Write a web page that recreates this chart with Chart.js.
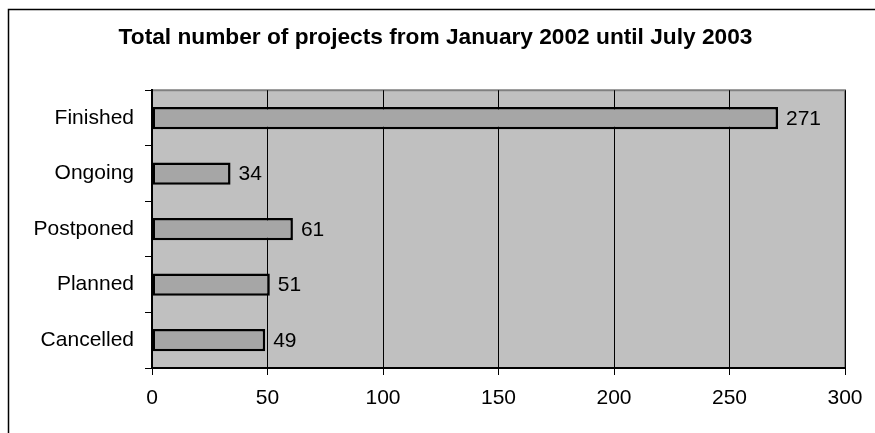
<!DOCTYPE html>
<html>
<head>
<meta charset="utf-8">
<script src="https://cdn.jsdelivr.net/npm/chart.js@4/dist/chart.umd.min.js"></script>
<style>
  html, body { margin: 0; padding: 0; background: #fff; }
  #wrap { width: 875px; height: 433px; }
</style>
</head>
<body>
<div id="wrap"><canvas id="projects" width="875" height="433"></canvas></div>
<script>
const statuses = ['Finished', 'Ongoing', 'Postponed', 'Planned', 'Cancelled'];
const projectCounts = [271, 34, 61, 51, 49];
const xTicks = [0, 50, 100, 150, 200, 250, 300];

const FONT = 'Arial, "Liberation Sans", sans-serif';

// frame around the whole chart + grey plot area
const backdrop = {
    id: 'backdrop',
    beforeDraw(chart) {
        const ctx = chart.ctx;
        const a = chart.chartArea;
        ctx.save();
        ctx.strokeStyle = '#000';
        ctx.lineWidth = 1.5;
        ctx.strokeRect(8.5, 9.5, 900, 500);
        ctx.fillStyle = '#c0c0c0';
        ctx.fillRect(a.left, a.top, a.right - a.left, a.bottom - a.top);
        ctx.strokeStyle = '#808080';
        ctx.lineWidth = 2;
        ctx.strokeRect(a.left, a.top, a.right - a.left, a.bottom - a.top);
        ctx.restore();
    }
};

// value labels at the end of each bar
const valueLabels = {
    id: 'valueLabels',
    afterDatasetsDraw(chart) {
        const ctx = chart.ctx;
        const meta = chart.getDatasetMeta(0);
        ctx.save();
        ctx.font = '21px ' + FONT;
        ctx.fillStyle = '#000';
        ctx.textAlign = 'left';
        ctx.textBaseline = 'middle';
        meta.data.forEach((bar, i) => {
            ctx.fillText(String(projectCounts[i]), bar.x + 8, bar.y + 1);
        });
        ctx.restore();
    }
};

new Chart(
    document.getElementById('projects'),
    {
        type: 'bar',
        data: {
            labels: statuses,
            datasets: [
                {
                    label: 'Projects',
                    data: projectCounts,
                    backgroundColor: '#a6a6a6',
                    borderColor: '#000',
                    borderWidth: 2.5,
                    borderSkipped: false,
                    categoryPercentage: 1,
                    barPercentage: 0.4,
                }
            ]
        },
        options: {
            indexAxis: 'y',
            responsive: false,
            animation: false,
            layout: { padding: { left: 26, right: 30, top: 0, bottom: 0 } },
            plugins: {
                legend: { display: false },
                tooltip: { enabled: false },
                title: {
                    display: true,
                    text: 'Total number of projects from January 2002 until July 2003',
                    color: '#000',
                    font: { family: FONT, size: 22.7, weight: 'bold' },
                    padding: { top: 24, bottom: 39 },
                },
            },
            scales: {
                x: {
                    min: 0,
                    max: 300,
                    afterBuildTicks: scale => {
                        scale.ticks = xTicks.map(v => ({ value: v }));
                    },
                    afterFit: scale => { scale.height = 65; },
                    border: { color: '#000', width: 2 },
                    grid: {
                        color: '#000',
                        lineWidth: 1,
                        drawTicks: true,
                        tickLength: 7,
                        tickColor: '#000',
                    },
                    ticks: {
                        color: '#000',
                        padding: 11,
                        maxRotation: 0,
                        font: { family: FONT, size: 21 },
                    }
                },
                y: {
                    afterFit: scale => { scale.width = 126; },
                    border: { color: '#000', width: 2 },
                    grid: {
                        offset: true,
                        drawOnChartArea: false,
                        drawTicks: true,
                        tickLength: 7,
                        color: '#000',
                    },
                    ticks: {
                        color: '#000',
                        padding: 11,
                        font: { family: FONT, size: 21 },
                    }
                }
            }
        },
        plugins: [backdrop, valueLabels]
    }
);
</script>
</body>
</html>
